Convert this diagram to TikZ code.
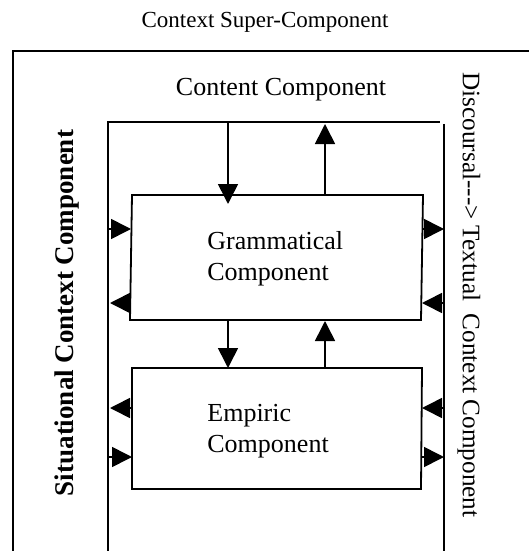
\documentclass[tikz,border=0pt]{standalone}
\usepackage{fontspec}
\setmainfont{Liberation Serif}
\usetikzlibrary{arrows.meta}
\begin{document}
\begin{tikzpicture}[x=0.5pt,y=-0.5pt,
  frame/.style={line width=1pt},
  box/.style={line width=0.9pt},
  flow/.style={line width=0.8pt,-{Triangle[length=10pt,width=10pt]}},
  lbl/.style={font=\fontsize{13}{15.5}\selectfont, inner sep=0pt},
]
\useasboundingbox (0,0) rectangle (529,551);

% outer super-component frame (runs off the page to the right and bottom)
\draw[frame] (13,551) -- (13,51) -- (529,51);

% content component column
\coordinate (colTL) at (108,122);
\coordinate (colTR) at (440,122);
\coordinate (colR)  at (444,124);
\draw[box] (108,551) -- (colTL) -- (colTR);
\draw[box] (colR) -- (444,551);

% grammatical component box
\coordinate (g1) at (132,195);
\coordinate (g2) at (423,195);
\coordinate (g3) at (421,320);
\coordinate (g4) at (130,320);
\draw[box] (g1) -- (g2) -- (g3) -- (g4) -- cycle;

% empiric component box
\coordinate (e1) at (132,368);
\coordinate (e2) at (422,368);
\coordinate (e3) at (421,489);
\coordinate (e4) at (132,489);
\draw[box] (e1) -- (e2) -- (e3) -- (e4) -- cycle;

% labels
\node[lbl, font=\fontsize{11.5}{14}\selectfont] (title) at (265,22) {Context Super-Component};
\node[lbl] (content) at (281,90) {Content Component};
\node[lbl, font=\fontsize{13.5}{16}\selectfont\bfseries, rotate=90] (situ) at (67,313) {Situational Context Component};
\node[lbl, font=\fontsize{12.6}{15}\selectfont, rotate=-90] (disc) at (469,295) {Discoursal-{}-{}-{}> Textual\ \ Context Component};
\node[lbl, align=left, anchor=west] (gram) at (207,258.5) {Grammatical\\Component};
\node[lbl, align=left, anchor=west] (emp) at (207,431) {Empiric\\Component};

% exchange points on the edges
\coordinate (cA) at (228,122);  \coordinate (gA) at (228,204);
\coordinate (gB) at (325,195);  \coordinate (cB) at (325,124);
\coordinate (gC) at (228,320);  \coordinate (eC) at (228,368);
\coordinate (eD) at (325,368);  \coordinate (gD) at (325,321);

\coordinate (sL1) at (108,229); \coordinate (gL1) at (131,229);
\coordinate (gL2) at (131,303); \coordinate (sL2) at (110,303);
\coordinate (gR1) at (423,229); \coordinate (tR1) at (444,229);
\coordinate (tR2) at (444,303); \coordinate (gR2) at (422,303);

\coordinate (eL1) at (132,408); \coordinate (sL3) at (110,408);
\coordinate (sL4) at (108,457); \coordinate (eL2) at (132,457);
\coordinate (tR3) at (444,408); \coordinate (eR1) at (422,408);
\coordinate (eR2) at (421,457); \coordinate (tR4) at (444,457);

% vertical flows
\draw[flow] (cA) -- (gA);
\draw[flow] (gB) -- (cB);
\draw[flow] (gC) -- (eC);
\draw[flow] (eD) -- (gD);

% situational side flows
\draw[flow] (sL1) -- (gL1);
\draw[flow] (gL2) -- (sL2);
\draw[flow] (eL1) -- (sL3);
\draw[flow] (sL4) -- (eL2);

% textual side flows
\draw[flow] (gR1) -- (tR1);
\draw[flow] (tR2) -- (gR2);
\draw[flow] (tR3) -- (eR1);
\draw[flow] (eR2) -- (tR4);
\end{tikzpicture}
\end{document}
